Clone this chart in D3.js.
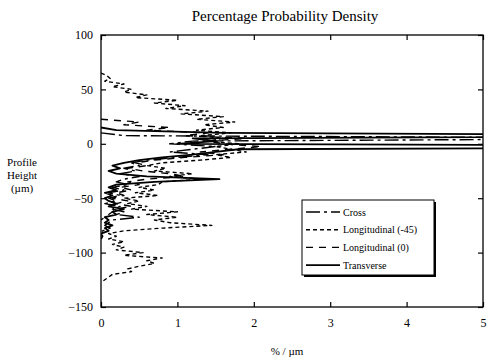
<!DOCTYPE html>
<html>
<head>
<meta charset="utf-8">
<script src="https://cdn.jsdelivr.net/npm/d3@7"></script>
<style>
  body { margin: 0; background: #fff; }
  svg { display: block; }
  text { font-family: "Liberation Serif", "Times New Roman", serif; fill: #000; }
</style>
</head>
<body>
<div id="chart"></div>
<script>
// profile height (µm), shared by all series
const heights = [
  65, 62.5, 60, 57.5, 55, 52.5, 50, 47.5, 45, 42.5,
  40, 37.5, 35, 32.5, 30, 27.5, 25, 22.5, 20, 17.5,
  15, 12.5, 10, 7.5, 5, 2.5, 0, -2.5, -5, -7.5,
  -10, -12.5, -15, -17.5, -20, -22.5, -25, -27.5, -30, -32.5,
  -35, -37.5, -40, -42.5, -45, -47.5, -50, -52.5, -55, -57.5,
  -60, -62.5, -65, -67.5, -70, -72.5, -75, -77.5, -80, -82.5,
  -85, -87.5, -90, -92.5, -95, -97.5, -100, -102.5, -105, -107.5,
  -110, -112.5, -115, -117.5, -120, -122.5, -125, -127.5
];

// density values (% / µm), each series starts at its own top height
const crossTop = 10;
const cross = [
  0, 0.3, 8, 1.2, 0.9, 1.5, 1.2, 0.9, 1.4, 1.0,
  0.6, 0.4, 0.5, 0.3, 0.45, 0.25, 0.5, 0.3, 0.2, 0.35,
  0.15, 0.3, 0.1, 0.25, 0.1, 0.2, 0.05, 0.25, 0.15, 0.3,
  0.2, 0.5, 0.15, 0.1, 0.05, 0.12, 0.02, 0
];

const long45Top = 65;
const long45 = [
  0, 0.08, 0.12, 0.05, 0.3, 0.15, 0.4, 0.3, 0.6, 0.45,
  1.0, 0.7, 1.1, 0.85, 1.4, 1.05, 1.6, 1.25, 1.75, 1.35,
  1.6, 1.25, 1.7, 1.3, 1.6, 1.4, 1.8, 1.5, 1.7, 1.9,
  1.5, 1.7, 1.3, 0.8, 0.6, 0.85, 0.7, 1.2, 0.9, 1.3,
  0.8, 0.75, 0.5, 0.7, 0.45, 0.75, 0.3, 0.5, 0.35, 0.6,
  0.4, 1.0, 0.6, 1.0, 0.7, 0.9, 1.45, 0.8, 0.3, 0.1,
  0.2, 0.1, 0.3, 0.15, 0.3, 0.2, 0.55, 0.3, 0.8, 0.6,
  0.7, 0.5, 0.35, 0.4, 0.15, 0.1, 0.05, 0
];

const long0Top = 22.5;
const long0 = [
  0, 0.5, 0.3, 0.9, 0.6, 1.4, 1.1, 1.9, 1.4, 1.6,
  2.1, 1.7, 1.3, 1.6, 1.1, 0.7, 0.45, 0.6, 0.35, 0.55,
  0.9, 1.1, 0.6, 0.35, 0.5, 0.25, 0.4, 0.2, 0.3, 0.15,
  0.35, 0.2, 0.4, 0.2, 0.15, 0.1, 0.05, 0
];

const transverseTop = 15;
const transverse = [
  0, 0.2, 1.6, 9, 1.2, 1.5, 1.0, 12, 1.8, 1.5,
  1.2, 0.8, 0.5, 0.3, 0.15, 0.25, 0.1, 0.2, 0.6, 1.55,
  0.7, 0.2, 0.1, 0.2, 0.05, 0.15, 0.05, 0.1, 0.2, 0.1,
  0.3, 0.15, 0.2, 0.05, 0.1, 0.05, 0.15, 0.05, 0.1, 0,
  0.02, 0
];

const seriesNames = ["Cross", "Longitudinal (-45)", "Longitudinal (0)", "Transverse"];
const xTicks = [0, 1, 2, 3, 4, 5];
const yTicks = [100, 50, 0, -50, -100, -150];

const width = 489, height = 360;
const margin = { top: 35, right: 6, bottom: 53, left: 101 };
const w = width - margin.left - margin.right;
const h = height - margin.top - margin.bottom;

function toPoints(start, values) {
  const i0 = heights.indexOf(start);
  return values.map((v, i) => ({ h: heights[i0 + i], v }));
}

const series = [
  { name: seriesNames[0], points: toPoints(crossTop, cross), dash: "14,4,3,4", sw: 1.4 },
  { name: seriesNames[1], points: toPoints(long45Top, long45), dash: "4,3", sw: 1.4 },
  { name: seriesNames[2], points: toPoints(long0Top, long0), dash: "7,6", sw: 1.4 },
  { name: seriesNames[3], points: toPoints(transverseTop, transverse), dash: null, sw: 1.8 }
];

const svg = d3.select("#chart").append("svg")
  .attr("width", width)
  .attr("height", height);

const g = svg.append("g").attr("transform", `translate(${margin.left},${margin.top})`);

const x = d3.scaleLinear().domain([0, 5]).range([0, w]);
const y = d3.scaleLinear().domain([-150, 100]).range([h, 0]);

// title
svg.append("text")
  .attr("x", 285).attr("y", 21)
  .attr("text-anchor", "middle")
  .style("font-size", "15px")
  .text("Percentage Probability Density");

// axes, ticks pointing inwards on all four sides
const axisL = g.append("g")
  .call(d3.axisLeft(y).tickValues(yTicks).tickSize(-5).tickPadding(8).tickFormat(d3.format("d")));
const axisB = g.append("g").attr("transform", `translate(0,${h})`)
  .call(d3.axisBottom(x).tickValues(xTicks).tickSize(-5).tickPadding(11).tickFormat(d3.format("d")));
const axisT = g.append("g")
  .call(d3.axisTop(x).tickValues(xTicks).tickSize(-5).tickFormat(""));
const axisR = g.append("g").attr("transform", `translate(${w},0)`)
  .call(d3.axisRight(y).tickValues(yTicks).tickSize(-5).tickFormat(""));

[axisL, axisB, axisT, axisR].forEach(a => {
  a.select(".domain").remove();
  a.selectAll("line").attr("stroke", "#000").attr("stroke-width", 1.2);
  a.selectAll("text").style("font-size", "12px").style("font-family", '"Liberation Serif", serif').attr("fill", "#000");
});

g.append("rect")
  .attr("width", w).attr("height", h)
  .attr("fill", "none").attr("stroke", "#000").attr("stroke-width", 1.3);

// axis titles
svg.append("text")
  .attr("text-anchor", "middle")
  .style("font-size", "11px")
  .selectAll("tspan")
  .data(["Profile", "Height", "(µm)"])
  .join("tspan")
    .attr("x", 22)
    .attr("y", (d, i) => 166 + i * 13)
    .text(d => d);

svg.append("text")
  .attr("x", 287).attr("y", 355)
  .attr("text-anchor", "middle")
  .style("font-size", "11px")
  .text("% / µm");

// lines
svg.append("defs").append("clipPath").attr("id", "plot-clip")
  .append("rect").attr("width", w).attr("height", h);

const line = d3.line()
  .x(d => x(d.v))
  .y(d => y(d.h));

g.append("g").attr("clip-path", "url(#plot-clip)")
  .selectAll("path")
  .data(series)
  .join("path")
    .attr("d", d => line(d.points))
    .attr("fill", "none")
    .attr("stroke", "#000")
    .attr("stroke-width", d => d.sw)
    .attr("stroke-dasharray", d => d.dash)
    .attr("stroke-linejoin", "round");

// legend with drop shadow
const legend = svg.append("g").attr("transform", "translate(302,200)");
legend.append("rect")
  .attr("x", 2).attr("y", 2).attr("width", 132).attr("height", 75)
  .attr("fill", "#000");
legend.append("rect")
  .attr("width", 132).attr("height", 75)
  .attr("fill", "#fff").attr("stroke", "#000").attr("stroke-width", 1);

const rows = legend.selectAll(".row")
  .data(series)
  .join("g")
    .attr("class", "row")
    .attr("transform", (d, i) => `translate(0,${12 + i * 17.7})`);

rows.append("line")
  .attr("x1", 4).attr("x2", 38)
  .attr("stroke", "#000")
  .attr("stroke-width", d => d.sw)
  .attr("stroke-dasharray", d => d.dash);

rows.append("text")
  .attr("x", 41).attr("dy", "0.35em")
  .style("font-size", "10px")
  .text(d => d.name);
</script>
</body>
</html>
